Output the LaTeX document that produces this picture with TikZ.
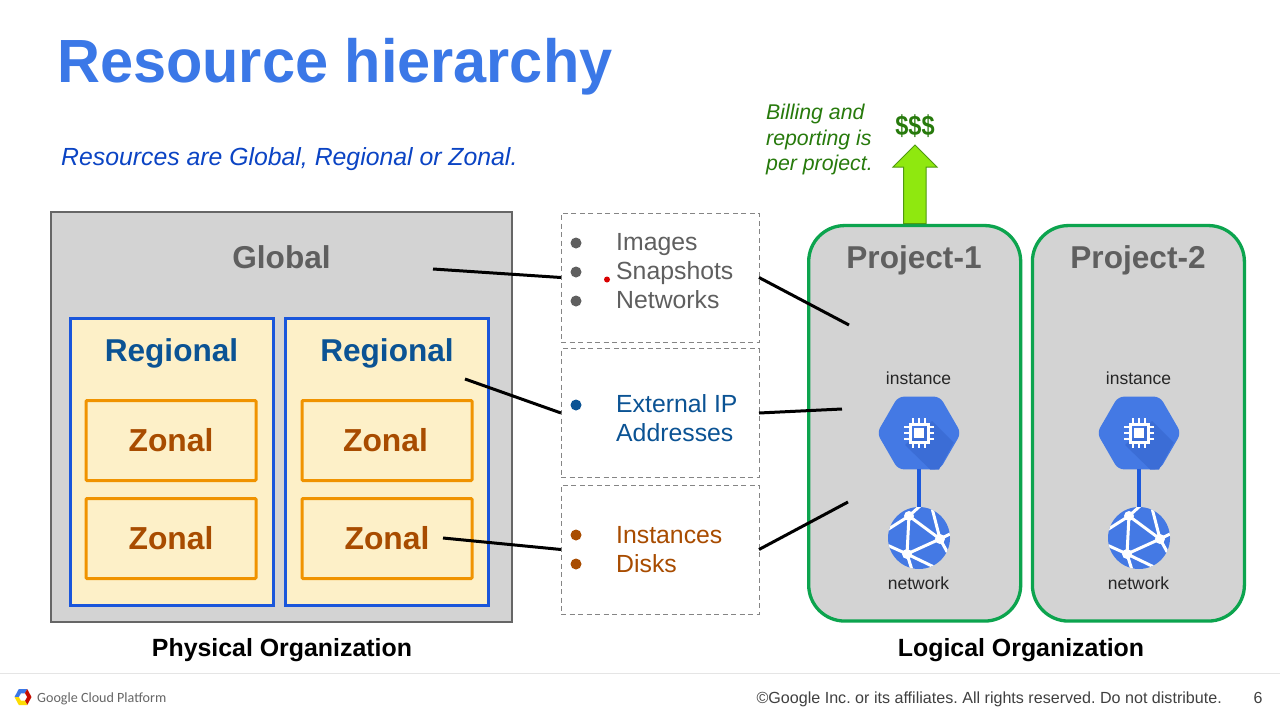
\documentclass[tikz,border=0pt]{standalone}
\usepackage{fontspec}
\setmainfont{Liberation Sans}
\newfontfamily\gcpfont{Carlito}
\usetikzlibrary{shapes.geometric}
\definecolor{titleblue}{HTML}{3B78E7}
\definecolor{introblue}{HTML}{0B44C4}
\definecolor{boxgray}{HTML}{D3D3D3}
\definecolor{edgegray}{HTML}{666666}
\definecolor{textgray}{HTML}{5F5F5F}
\definecolor{regblue}{HTML}{1A56DB}
\definecolor{regtext}{HTML}{0B5394}
\definecolor{cream}{HTML}{FDF0C8}
\definecolor{zonaledge}{HTML}{F09300}
\definecolor{zonaltext}{HTML}{A84C00}
\definecolor{projgreen}{HTML}{0CA44E}
\definecolor{darkgreen}{HTML}{277A0C}
\definecolor{limegreen}{HTML}{8FE80F}
\definecolor{limeedge}{HTML}{4F9A10}
\definecolor{iconblue}{HTML}{4479E4}
\definecolor{iconshade}{HTML}{3B6DD6}
\newcommand{\fs}[1]{\fontsize{#1}{#1}\selectfont\frenchspacing}
\tikzset{
  globalbox/.style={draw=edgegray,fill=boxgray,line width=2.5pt,inner sep=0pt,outer sep=0pt},
  regionbox/.style={draw=regblue,fill=cream,line width=3pt,inner sep=0pt,outer sep=0pt},
  zonebox/.style={draw=zonaledge,fill=cream,line width=3pt,rounded corners=1pt,inner sep=0pt,outer sep=0pt},
  dashbox/.style={draw=edgegray!80,fill=white,line width=1pt,dash pattern=on 5pt off 3.5pt,inner sep=0pt,outer sep=0pt,minimum width=198pt,minimum height=129pt},
  projbox/.style={draw=projgreen,fill=boxgray,line width=3.3pt,rounded corners=36pt,inner sep=0pt,outer sep=0pt,minimum width=212pt,minimum height=395.5pt},
  link/.style={draw=black,line width=3pt},
  bigtitle/.style={font=\fs{31.6}\bfseries,text=textgray,inner sep=0pt,anchor=base},
  regionlabel/.style={font=\fs{31.6}\bfseries,text=regtext,inner sep=0pt,anchor=base},
  zonelabel/.style={font=\fs{31.8}\bfseries,text=zonaltext,inner sep=0pt,anchor=base},
  listtext/.style={font=\fs{24.8},anchor=base west,inner sep=0pt},
  bullet/.style={circle,fill=#1,minimum size=11pt,inner sep=0pt},
  iconlabel/.style={font=\fs{17.5},text=black!85,inner sep=0pt,anchor=base},
  caption/.style={font=\fs{24.9}\bfseries,text=black,inner sep=0pt,anchor=base},
  hexicon/.style={regular polygon,regular polygon sides=6,fill=iconblue,minimum size=84pt,inner sep=0pt,outer sep=0pt,rounded corners=6pt},
  neticon/.style={circle,fill=iconblue,minimum size=62pt,inner sep=0pt,outer sep=0pt},
  chip/.pic={
    \begin{scope}[white]
      \draw[line width=3pt] (-9,-9) rectangle (9,9);
      \fill (-5,-5) rectangle (5,5);
      \foreach \t in {-6,0,6}{
        \draw[line width=2.4pt] (\t,-9) -- (\t,-15);
        \draw[line width=2.4pt] (\t,9) -- (\t,15);
        \draw[line width=2.4pt] (-9,\t) -- (-15,\t);
        \draw[line width=2.4pt] (9,\t) -- (15,\t);
      }
    \end{scope}
  },
  mesh/.pic={
    \begin{scope}
      \clip (0,0) circle (31);
      \draw[white,line width=3pt]
        (-10,-22) -- (1,-32) (-10,-22) -- (-32,-8) (-10,-22) -- (21,1)
        (-10,-22) -- (-12,16) (-12,16) -- (21,1) (21,1) -- (13,-30)
        (21,1) -- (31,19) (21,1) -- (33,-5) (-12,16) -- (-32,7)
        (-12,16) -- (-7,32) (-12,16) -- (15,29);
      \fill[white] (-10,-22) circle (5) (21,1) circle (5) (-12,16) circle (5);
    \end{scope}
  }
}
\begin{document}
\begin{tikzpicture}[x=1pt,y=-1pt]
\useasboundingbox[fill=white] (0,0) rectangle (1280,720);

% title
\node[font=\fs{61}\bfseries,text=titleblue,anchor=base west,inner sep=0pt,xscale=0.975,transform shape] (title) at (57,82) {Resource hierarchy};
\node[font=\fs{24.8}\itshape,text=introblue,anchor=base west,inner sep=0pt] (intro) at (61,165) {Resources are Global, Regional or Zonal.};

% physical
\node[globalbox,minimum width=461pt,minimum height=410pt] (global) at (281.5,417) {};
\node[bigtitle] (globaltxt) at (281.5,268) {Global};
\node[regionbox,minimum width=203pt,minimum height=287pt] (regA) at (171.5,461.5) {};
\node[regionbox,minimum width=203pt,minimum height=287pt] (regB) at (387,461.5) {};
\node[regionlabel] (regAtxt) at (171.5,361) {Regional};
\node[regionlabel] (regBtxt) at (387,361) {Regional};
\foreach \n/\x/\y/\tx in {zA/171/440.5/171,zB/171/538.5/171,zC/387/440.5/385.5,zD/387/538.5/387}{
  \node[zonebox,minimum width=170pt,minimum height=80pt] (\n) at (\x,\y) {};
  \node[zonelabel] (\n txt) at (\tx,\y+10.5) {Zonal};
}
\node[caption] (phys) at (282,656) {Physical Organization};

% scope boxes
\node[dashbox] (boxG) at (660,277.5) {};
\node[dashbox] (boxR) at (660,413) {};
\node[dashbox] (boxZ) at (660,549.5) {};

\foreach \n/\y in {a/243,b/272,c/301}{\node[bullet=textgray] (bul\n) at (576,\y) {};}
\node[listtext,text=textgray] (li1) at (616,250) {Images};
\node[listtext,text=textgray] (li2) at (616,279) {Snapshots};
\node[listtext,text=textgray] (li3) at (616,308) {Networks};
\node[circle,fill=red!85!black,minimum size=6pt,inner sep=0pt] (pointer) at (607,279.5) {};

\node[bullet=regtext] (buld) at (576,405) {};
\node[listtext,text=regtext] (li4) at (616,412) {External IP};
\node[listtext,text=regtext] (li5) at (616,441) {Addresses};

\node[bullet=zonaltext] (bule) at (576,535) {};
\node[bullet=zonaltext] (bulf) at (576,564) {};
\node[listtext,text=zonaltext] (li6) at (616,543) {Instances};
\node[listtext,text=zonaltext] (li7) at (616,572) {Disks};

% projects
\node[projbox] (proj1) at (914.7,423.3) {};
\node[projbox] (proj2) at (1138.4,423.3) {};
\node[bigtitle] (p1txt) at (914,268) {Project-1};
\node[bigtitle] (p2txt) at (1138,268) {Project-2};
\node[caption] (logi) at (1021,656) {Logical Organization};

% icons
\foreach \i/\x in {1/919,2/1139}{
  \node[iconlabel] (instL\i) at (\x-0.5,384) {instance};
  \node[iconlabel] (netL\i) at (\x-0.5,589) {network};
  \node[hexicon] (inst\i) at (\x,433) {};
  \node[neticon] (net\i) at (\x,538) {};
  \begin{scope}
    \clip (\x-40,433) -- (\x-20,396.5) -- (\x+20,396.5) -- (\x+40,433) -- (\x+20,469.5) -- (\x-20,469.5) -- cycle;
    \fill[iconshade] (\x+13,421) -- (\x+50,458) -- (\x+22,480) -- (\x-14,445) -- cycle;
  \end{scope}
  \draw[regblue!90!iconblue,line width=4pt] (inst\i) -- (net\i);
  \node[hexicon,fill=none] at (\x,433) {};
  \pic at (\x,433) {chip};
  \pic at (\x,538) {mesh};
}

% leader lines
\coordinate (gEnd) at (433,269);
\coordinate (rEnd) at (465,379);
\coordinate (zEnd) at (443,538);
\coordinate (gProj) at (849,325);
\coordinate (rProj) at (842,409);
\coordinate (zProj) at (848,502);
\draw[link] (gEnd) -- (boxG.west);
\draw[link] (rEnd) -- (boxR.west);
\draw[link] (zEnd) -- (boxZ.west);
\draw[link] (boxG.east) -- (gProj);
\draw[link] (boxR.east) -- (rProj);
\draw[link] (boxZ.east) -- (zProj);

% billing
\draw[fill=limegreen,draw=limeedge,line width=1pt,line join=miter]
  (903.5,223.5) -- (903.5,167) -- (893,167) -- (915,145) -- (937,167) -- (926,167) -- (926,223.5) -- cycle;
\node[font=\fs{28}\bfseries,text=darkgreen,inner sep=0pt,xscale=0.84,transform shape,anchor=base] (money) at (915,135) {\$\$\$};
\node[font=\fs{21.3}\itshape,text=darkgreen,anchor=base west,inner sep=0pt] (b1) at (766,119) {Billing and};
\node[font=\fs{21.3}\itshape,text=darkgreen,anchor=base west,inner sep=0pt] (b2) at (766,145) {reporting is};
\node[font=\fs{21.3}\itshape,text=darkgreen,anchor=base west,inner sep=0pt] (b3) at (766,170) {per project.};

% footer
\draw[black!10,line width=1.5pt] (0,673.5) -- (1280,673.5);
\begin{scope}[shift={(23,697)}]
  \fill[titleblue] (-8.5,0) -- (-4.2,-8) -- (4.2,-8) -- (0,0) -- cycle;
  \fill[red!75!black!90!orange] (4.2,-8) -- (8.5,0) -- (4.2,8) -- (0,0) -- cycle;
  \fill[yellow!80!orange] (-8.5,0) -- (-4.2,8) -- (4.2,8) -- (0,0) -- cycle;
  \fill[white] (-4,0) -- (-2,-3.6) -- (2,-3.6) -- (4,0) -- (2,3.6) -- (-2,3.6) -- cycle;
\end{scope}
\node[font=\gcpfont\fs{14.1},text=black!60,anchor=base west,inner sep=0pt] (gcp) at (37,702) {Google Cloud Platform};
\node[font=\fs{16.1},text=black!75,anchor=base east,inner sep=0pt] (copy) at (1222,703) {©Google Inc. or its affiliates. All rights reserved. Do not distribute.};
\node[font=\fs{16},text=black!75,inner sep=0pt,anchor=base] (pageno) at (1258,703) {6};
\end{tikzpicture}
\end{document}
